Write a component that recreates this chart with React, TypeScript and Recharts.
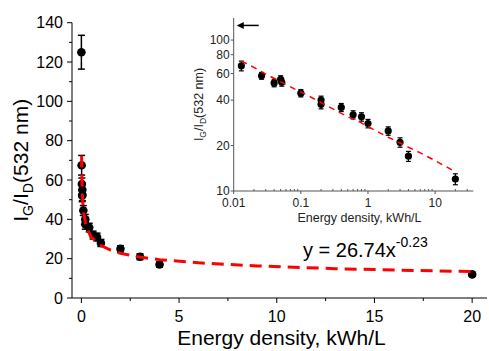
import { ScatterChart, Scatter, XAxis, YAxis, ErrorBar, ReferenceLine, Label } from "recharts";

// I_G/I_D (532 nm) vs energy density
const energy = [0, 0.013, 0.026, 0.04, 0.05, 0.052, 0.1, 0.2, 0.2, 0.4, 0.6, 0.8, 1, 2, 3, 4, 20];
const ratio = [125, 67.5, 58, 52, 55, 52.5, 44.5, 40, 37.5, 35.8, 32, 31, 28, 25, 21, 17, 12];
const ratioErr = [8.6, 5, 3, 3, 3, 3, 2.5, 2.5, 2.5, 2.2, 2, 2, 1.8, 1.6, 1.5, 1.3, 1];

// fitted curve y = 26.74x^-0.23
const fitEnergy = [0.013, 0.02, 0.03, 0.05, 0.08, 0.12, 0.2, 0.3, 0.5, 0.75, 1, 1.5, 2, 3, 4, 6, 9, 13, 20];
const fitRatio = [72.5, 66, 59.5, 53, 47.5, 43.5, 38.5, 35, 31, 28.7, 26.7, 24.3, 22.7, 20.8, 19.5, 17.9, 16.3, 14.9, 13.4];

const mainXTicks = [0, 2.5, 5, 7.5, 10, 12.5, 15, 17.5, 20];
const mainYTicks = [0, 10, 20, 30, 40, 50, 60, 70, 80, 90, 100, 110, 120, 130, 140];
const insetXMajor = [0.01, 0.1, 1, 10];
const insetXMinor = [0.02, 0.03, 0.04, 0.05, 0.06, 0.07, 0.08, 0.09, 0.2, 0.3, 0.4, 0.5, 0.6, 0.7, 0.8, 0.9, 2, 3, 4, 5, 6, 7, 8, 9, 20, 30];
const insetYTicks = [10, 20, 40, 60, 80, 100];

const points = energy.map((x, i) => ({ x, y: ratio[i], err: ratioErr[i] }));
const insetPoints = points.filter((p) => p.x > 0);
const fit = fitEnergy.map((x, i) => ({ x, y: fitRatio[i] }));

const FONT = "'Liberation Sans', Arial, sans-serif";
const RED = "#ff0000";

function MainXTick({ x, y, payload }: any) {
  const major = payload.value % 5 === 0;
  return (
    <g>
      <line x1={x} x2={x} y1={y} y2={y + (major ? 5 : 3)} stroke="#000" />
      {major && (
        <text x={x} y={y + 23.5} textAnchor="middle" fontSize={16} fontFamily={FONT} fill="#000">
          {payload.value}
        </text>
      )}
    </g>
  );
}

function MainYTick({ x, y, payload }: any) {
  const major = payload.value % 20 === 0;
  return (
    <g>
      <line x1={x} x2={x - (major ? 5 : 3)} y1={y} y2={y} stroke="#000" />
      {major && (
        <text x={x - 9} y={y + 5.7} textAnchor="end" fontSize={16} fontFamily={FONT} fill="#000">
          {payload.value}
        </text>
      )}
    </g>
  );
}

function InsetXTick({ x, y, payload }: any) {
  const major = insetXMajor.includes(payload.value);
  return (
    <g>
      <line x1={x} x2={x} y1={y} y2={major ? y + 3 : y - 2} stroke="#555" />
      {major && (
        <text x={x} y={y + 16} textAnchor="middle" fontSize={12} fontFamily={FONT} fill="#222">
          {payload.value}
        </text>
      )}
    </g>
  );
}

function InsetYTick({ x, y, payload }: any) {
  return (
    <g>
      <line x1={x} x2={x - 3} y1={y} y2={y} stroke="#555" />
      <text x={x - 4} y={y + 4.3} textAnchor="end" fontSize={12} fontFamily={FONT} fill="#222">
        {payload.value}
      </text>
    </g>
  );
}

function YLabel({ viewBox, size, dx, color }: any) {
  const cx = viewBox.x + dx;
  const cy = viewBox.y + viewBox.height / 2;
  const sub = size * 0.68;
  const shift = size * 0.25;
  return (
    <text
      x={cx}
      y={cy}
      transform={`rotate(-90, ${cx}, ${cy})`}
      textAnchor="middle"
      fontSize={size}
      fontFamily={FONT}
      fill={color}
    >
      I<tspan fontSize={sub} dy={shift}>G</tspan>
      <tspan dy={-shift}>/I</tspan>
      <tspan fontSize={sub} dy={shift}>D</tspan>
      <tspan dy={-shift}>(532 nm)</tspan>
    </text>
  );
}

function XLabel({ viewBox, size, dx, dy, color }: any) {
  return (
    <text
      x={viewBox.x + viewBox.width / 2 + dx}
      y={viewBox.y + dy}
      textAnchor="middle"
      fontSize={size}
      fontFamily={FONT}
      fill={color}
    >
      Energy density, kWh/L
    </text>
  );
}

function Arrow(props: any) {
  const { x1, y1, x2, y2 } = props;
  const left = Math.min(x1, x2);
  const right = Math.max(x1, x2);
  const y = (y1 + y2) / 2;
  return (
    <g>
      <line x1={right} x2={left + 5} y1={y} y2={y} stroke="#000" strokeWidth={1.5} />
      <polygon points={`${left},${y} ${left + 7},${y - 3.5} ${left + 7},${y + 3.5}`} fill="#000" />
    </g>
  );
}

const noShape = () => <g />;

export default function App() {
  return (
    <div style={{ position: "absolute", left: 0, top: 0, width: 489, height: 351, background: "#fff" }}>
      <ScatterChart width={489} height={351} margin={{ top: 22.7, right: 2, bottom: 0, left: 0 }}>
        <XAxis
          type="number"
          dataKey="x"
          domain={[-0.48, 20.76]}
          ticks={mainXTicks}
          interval={0}
          allowDataOverflow
          tickSize={0}
          tickMargin={0}
          tickLine={false}
          tick={<MainXTick />}
          height={53}
          stroke="#000"
        >
          <Label content={<XLabel size={21} dx={2} dy={47} color="#000" />} />
        </XAxis>
        <YAxis
          type="number"
          dataKey="y"
          domain={[0, 140]}
          ticks={mainYTicks}
          interval={0}
          allowDataOverflow
          tickSize={0}
          tickMargin={0}
          tickLine={false}
          tick={<MainYTick />}
          width={72}
          stroke="#000"
        >
          <Label content={<YLabel size={21} dx={28} color="#000" />} />
        </YAxis>
        <Scatter
          data={points}
          isAnimationActive={false}
          shape={(p: any) => <circle cx={p.cx} cy={p.cy} r={4.3} fill="#000" />}
        >
          <ErrorBar dataKey="err" direction="y" width={3.5} stroke="#000" strokeWidth={1.5} isAnimationActive={false} />
        </Scatter>
        <Scatter
          data={fit}
          isAnimationActive={false}
          line={{ stroke: RED, strokeWidth: 3, strokeDasharray: "12 7" }}
          lineType="joint"
          shape={noShape}
        />
      </ScatterChart>

      <div
        style={{
          position: "absolute",
          left: 303,
          top: 239.8,
          fontFamily: FONT,
          fontSize: 20,
          lineHeight: "20px",
          whiteSpace: "nowrap",
          color: "#000",
        }}
      >
        y = 26.74x<span style={{ fontSize: 14, position: "relative", top: -10 }}>-0.23</span>
      </div>

      <div style={{ position: "absolute", left: 180, top: 0 }}>
        <ScatterChart width={309} height={230} margin={{ top: 18, right: 15.7, bottom: 0, left: 0 }}>
          <XAxis
            type="number"
            dataKey="x"
            scale="log"
            domain={[0.01, 37]}
            ticks={[...insetXMajor, ...insetXMinor].sort((a, b) => a - b)}
            interval={0}
            allowDataOverflow
            tickSize={0}
            tickMargin={0}
            tickLine={false}
            tick={<InsetXTick />}
            height={39}
            stroke="#555"
          >
            <Label content={<XLabel size={12.5} dx={6} dy={31} color="#222" />} />
          </XAxis>
          <YAxis
            type="number"
            dataKey="y"
            scale="log"
            domain={[10, 140]}
            ticks={insetYTicks}
            interval={0}
            allowDataOverflow
            tickSize={0}
            tickMargin={0}
            tickLine={false}
            tick={<InsetYTick />}
            width={53.7}
            stroke="#555"
          >
            <Label content={<YLabel size={12.5} dx={23} color="#222" />} />
          </YAxis>
          <Scatter
            data={insetPoints}
            isAnimationActive={false}
            shape={(p: any) => <circle cx={p.cx} cy={p.cy} r={3.6} fill="#000" />}
          >
            <ErrorBar dataKey="err" direction="y" width={2.5} stroke="#000" strokeWidth={1.2} isAnimationActive={false} />
          </Scatter>
          <Scatter
            data={fit}
            isAnimationActive={false}
            line={{ stroke: RED, strokeWidth: 1.5, strokeDasharray: "6 5" }}
            lineType="joint"
            shape={noShape}
          />
          <ReferenceLine
            segment={[
              { x: 0.0236, y: 125 },
              { x: 0.0111, y: 125 },
            ]}
            ifOverflow="visible"
            shape={<Arrow />}
          />
        </ScatterChart>
      </div>
    </div>
  );
}
